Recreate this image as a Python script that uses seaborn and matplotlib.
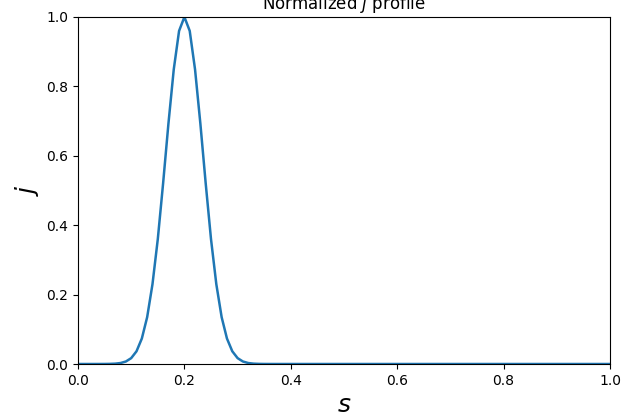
import matplotlib
matplotlib.use("Agg")
import matplotlib.pyplot as plt
import pandas as pd
import seaborn as sns

# arc-length coordinate, sampled every 0.01 from 0 to 1
s_values = [round(0.01 * i, 2) for i in range(101)]

# normalized current density j(s)
j_rise = [
    0.0, 0.0, 0.0, 0.0, 0.00003,                      # 0.00-0.04
    0.0001, 0.00034, 0.001, 0.0028, 0.0072,           # 0.05-0.09
    0.0169, 0.0367, 0.0734, 0.135, 0.230,             # 0.10-0.14
    0.360, 0.521, 0.693, 0.849, 0.960,                # 0.15-0.19
    1.0,                                              # 0.20
]
j_fall = [
    0.960, 0.849, 0.693, 0.521, 0.360,                # 0.21-0.25
    0.230, 0.135, 0.0734, 0.0367, 0.0169,             # 0.26-0.30
    0.0072, 0.0028, 0.001, 0.00034, 0.0001,           # 0.31-0.35
    0.00003,                                          # 0.36
]
j_tail = [0.0] * 64                                   # 0.37-1.00
j_values = j_rise + j_fall + j_tail

df = pd.DataFrame({"s": s_values, "j": j_values})

fig = plt.figure(figsize=(6.26, 4.13), dpi=100)
ax = fig.add_axes([78 / 626, 49 / 413, 532 / 626, 347 / 413])

sns.lineplot(data=df, x="s", y="j", ax=ax, color="#1f77b4", linewidth=1.8)

ax.set_xlim(0, 1)
ax.set_ylim(0, 1)
ax.set_xticks([0.0, 0.2, 0.4, 0.6, 0.8, 1.0])
ax.set_yticks([0.0, 0.2, 0.4, 0.6, 0.8, 1.0])
ax.tick_params(labelsize=10)
ax.set_title("Normalized $j$ profile", fontsize=12)
ax.set_xlabel("$s$", fontsize=18)
ax.set_ylabel("$j$", fontsize=18)

fig.savefig("out.png", dpi=100)
